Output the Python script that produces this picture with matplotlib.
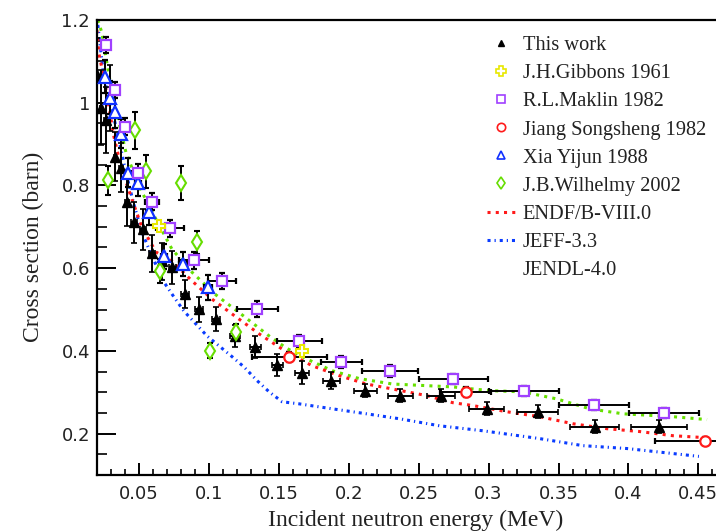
import matplotlib
matplotlib.use("Agg")
import matplotlib.pyplot as plt
from matplotlib.lines import Line2D
from matplotlib.ticker import MultipleLocator, FormatStrFormatter

# This work
tw_e = [0.0199, 0.0228, 0.0263, 0.0292, 0.0328, 0.0371, 0.0414, 0.0464,
        0.0529, 0.0593, 0.0665, 0.0737, 0.0830, 0.0930, 0.1052, 0.1188,
        0.1331, 0.1489, 0.1668, 0.1875, 0.2119, 0.2369, 0.2663, 0.2986,
        0.3351, 0.3759, 0.4218]
tw_xs = [1.067, 0.988, 0.959, 1.012, 0.870, 0.843, 0.761, 0.711,
         0.694, 0.636, 0.617, 0.602, 0.537, 0.501, 0.477, 0.436,
         0.410, 0.366, 0.347, 0.328, 0.304, 0.292, 0.292, 0.260,
         0.253, 0.217, 0.217]
tw_dx = [0.001, 0.001, 0.001, 0.001, 0.001, 0.0015, 0.0015, 0.002,
         0.002, 0.002, 0.0025, 0.0025, 0.003, 0.003, 0.003, 0.0035,
         0.004, 0.004, 0.005, 0.006, 0.008, 0.009, 0.010, 0.0125,
         0.0147, 0.0175, 0.020]
tw_dy = [0.09, 0.09, 0.08, 0.08, 0.06, 0.06, 0.06, 0.05,
         0.05, 0.045, 0.045, 0.04, 0.034, 0.03, 0.03, 0.026,
         0.026, 0.026, 0.028, 0.02, 0.016, 0.016, 0.016, 0.016,
         0.016, 0.016, 0.016]

# J.H.Gibbons 1961
gib_e = [0.0643, 0.1668]
gib_xs = [0.701, 0.400]
gib_dy = [0.012, 0.012]

# R.L.Maklin 1982
mak_e = [0.0264, 0.0328, 0.0400, 0.0493, 0.0593, 0.0722, 0.0894, 0.1095,
         0.1345, 0.1646, 0.1947, 0.2298, 0.2749, 0.3251, 0.3752, 0.4254]
mak_xs = [1.140, 1.031, 0.942, 0.831, 0.761, 0.696, 0.619, 0.569,
          0.501, 0.424, 0.373, 0.352, 0.333, 0.304, 0.270, 0.251]
mak_dx = [0.002, 0.003, 0.003, 0.004, 0.005, 0.010, 0.011, 0.010,
          0.0147, 0.016, 0.0147, 0.020, 0.025, 0.025, 0.025, 0.025]
mak_dy = [0.02, 0.02, 0.02, 0.02, 0.02, 0.02, 0.02, 0.02,
          0.02, 0.015, 0.015, 0.015, 0.012, 0.012, 0.012, 0.012]

# Jiang Songsheng 1982
jia_e = [0.1575, 0.2835, 0.4547]
jia_xs = [0.386, 0.301, 0.183]
jia_dx = [0.027, 0.018, 0.036]
jia_dy = [0.012, 0.012, 0.008]

# Xia Yijun 1988
xia_e = [0.0256, 0.0292, 0.0328, 0.0371, 0.0421, 0.0493, 0.0572, 0.0679,
         0.0815, 0.0994]
xia_xs = [1.063, 1.012, 0.978, 0.925, 0.831, 0.805, 0.735, 0.629,
          0.610, 0.554]
xia_dx = [0.001, 0.001, 0.001, 0.0015, 0.0015, 0.002, 0.002, 0.002,
          0.003, 0.003]
xia_dy = [0.04, 0.04, 0.04, 0.035, 0.035, 0.03, 0.03, 0.03,
          0.03, 0.03]

# J.B.Wilhelmy 2002
wil_e = [0.0278, 0.0471, 0.0550, 0.0801, 0.0650, 0.0915, 0.1009, 0.1195]
wil_xs = [0.812, 0.933, 0.834, 0.807, 0.593, 0.663, 0.400, 0.446]
wil_dy = [0.034, 0.044, 0.04, 0.041, 0.03, 0.028, 0.018, 0.02]

# evaluations
endf_e = [0.0199, 0.0213, 0.0256, 0.0321, 0.0371, 0.0443, 0.0521, 0.0622,
          0.0736, 0.0880, 0.1023, 0.1195, 0.1360, 0.1553, 0.1739, 0.1933,
          0.2126, 0.2312, 0.2556, 0.2742, 0.2885, 0.3129, 0.3365, 0.3602,
          0.3845, 0.4082, 0.4318, 0.4562]
endf_xs = [1.176, 1.120, 1.048, 0.918, 0.846, 0.773, 0.699, 0.639,
           0.617, 0.569, 0.525, 0.482, 0.441, 0.398, 0.364, 0.340,
           0.320, 0.308, 0.292, 0.275, 0.268, 0.253, 0.241, 0.224,
           0.212, 0.205, 0.195, 0.190]

jeff_e = [0.0206, 0.0249, 0.0307, 0.0357, 0.0407, 0.0464, 0.0521, 0.0593,
          0.0679, 0.0751, 0.0822, 0.0894, 0.0987, 0.1073, 0.1159, 0.1252,
          0.1345, 0.1431, 0.1524, 0.1646, 0.1883, 0.2126, 0.2362, 0.2649,
          0.2957, 0.3365, 0.3673, 0.3989, 0.4504]
jeff_xs = [1.188, 1.060, 0.983, 0.911, 0.831, 0.754, 0.687, 0.629,
           0.566, 0.530, 0.496, 0.470, 0.436, 0.412, 0.388, 0.361,
           0.328, 0.301, 0.277, 0.272, 0.260, 0.248, 0.236, 0.219,
           0.207, 0.188, 0.171, 0.164, 0.145]

jendl_e = [0.0206, 0.0235, 0.0285, 0.0335, 0.0407, 0.0500, 0.0622, 0.0736,
           0.0880, 0.1052, 0.1238, 0.1431, 0.1553, 0.1696, 0.1883, 0.2076,
           0.2312, 0.2556, 0.2742, 0.3007, 0.3244, 0.3487, 0.3724, 0.3960,
           0.4318, 0.4562]
jendl_xs = [1.200, 1.169, 1.067, 0.983, 0.880, 0.798, 0.718, 0.646,
            0.590, 0.535, 0.487, 0.436, 0.407, 0.381, 0.352, 0.333,
            0.320, 0.316, 0.313, 0.304, 0.301, 0.284, 0.260, 0.248,
            0.241, 0.234]

W, H = 716, 532
fig = plt.figure(figsize=(W / 100, H / 100), dpi=100)
# the original picture is cut at the right, so the axes run to the edge
ax = fig.add_axes([97 / W, 1 - 475 / H, 1 - 97 / W, (475 - 20) / H])

SERIF = "Liberation Serif"
SANS = "DejaVu Sans"
TXT = "#222222"

RED = "#ff1a1a"
BLUE = "#0a3cff"
GREEN = "#66e000"

# evaluated curves
ax.plot(jeff_e, jeff_xs, color=BLUE, lw=2.2,
        dashes=(1.0, 1.3, 0.4, 1.3), zorder=2)
ax.plot(jendl_e, jendl_xs, color=GREEN, lw=2.2,
        dashes=(1.0, 1.7), zorder=2)
ax.plot(endf_e, endf_xs, color=RED, lw=2.2,
        dashes=(1.0, 1.7), zorder=2)

eb = dict(ecolor="black", elinewidth=1.4, capsize=2, capthick=1.2,
          linestyle="none", zorder=3)

ax.errorbar(tw_e, tw_xs, xerr=tw_dx, yerr=tw_dy, fmt="^", ms=7,
            color="black", mfc="black", mec="black", **eb)
ax.errorbar(wil_e, wil_xs, yerr=wil_dy, fmt="d", ms=8, mfc="white",
            mec="#66dd00", mew=1.5, **eb)
ax.errorbar(xia_e, xia_xs, xerr=xia_dx, yerr=xia_dy, fmt="^", ms=8,
            mfc="white", mec="#1030ff", mew=1.6, **eb)
ax.errorbar(mak_e, mak_xs, xerr=mak_dx, yerr=mak_dy, fmt="s", ms=7.5,
            mfc="white", mec="#a040ff", mew=1.6, **eb)
ax.errorbar(jia_e, jia_xs, xerr=jia_dx, yerr=jia_dy, fmt="o", ms=7.5,
            mfc="white", mec=RED, mew=1.6, **eb)
ax.errorbar(gib_e, gib_xs, yerr=gib_dy, fmt="P", ms=9, mfc="white",
            mec="#e8e800", mew=1.5, **eb)

ax.set_xlim(0.02, 0.05 + (716 - 140) / 1396)
ax.set_ylim(0.1, 1.2)

ax.spines["right"].set_visible(False)
for s in ["left", "bottom", "top"]:
    ax.spines[s].set_linewidth(1.6)

ax.xaxis.set_major_locator(MultipleLocator(0.05))
ax.xaxis.set_minor_locator(MultipleLocator(0.01))
ax.yaxis.set_major_locator(MultipleLocator(0.2))
ax.yaxis.set_minor_locator(MultipleLocator(0.05))
ax.xaxis.set_major_formatter(FormatStrFormatter("%g"))
ax.yaxis.set_major_formatter(FormatStrFormatter("%g"))

ax.tick_params(axis="x", which="major", direction="in", length=9, width=1.4,
               pad=7, labelsize=13, labelcolor=TXT)
ax.tick_params(axis="x", which="minor", direction="in", length=4.5, width=1.2)
ax.tick_params(axis="y", which="major", direction="in", length=14, width=1.4,
               pad=5, labelsize=13, labelcolor=TXT)
ax.tick_params(axis="y", which="minor", direction="in", length=7, width=1.2)
ax.tick_params(top=False, right=False, which="both")
for lab in ax.get_xticklabels() + ax.get_yticklabels():
    lab.set_fontfamily(SANS)

fig.text(416 / W, 1 - 520 / H, "Incident neutron energy (MeV)",
         ha="center", va="center", fontsize=17, family=SERIF, color=TXT)
fig.text(33 / W, 1 - 247 / H, "Cross section (barn)", rotation=90,
         ha="center", va="center", fontsize=17, family=SERIF, color=TXT)

handles = [
    Line2D([], [], marker="^", ls="none", color="black", ms=5),
    Line2D([], [], marker="P", ls="none", mfc="none", mec="#e8e800", ms=7, mew=1.2),
    Line2D([], [], marker="s", ls="none", mfc="none", mec="#a040ff", ms=6, mew=1.2),
    Line2D([], [], marker="o", ls="none", mfc="none", mec=RED, ms=6, mew=1.2),
    Line2D([], [], marker="^", ls="none", mfc="none", mec="#1030ff", ms=6, mew=1.2),
    Line2D([], [], marker="d", ls="none", mfc="none", mec="#66dd00", ms=6, mew=1.2),
    Line2D([], [], color=RED, lw=2.2, dashes=(1.0, 1.7)),
    Line2D([], [], color=BLUE, lw=2.2, dashes=(1.0, 1.3, 0.4, 1.3)),
    Line2D([], [], color="none"),
]
labels = ["This work", "J.H.Gibbons 1961", "R.L.Maklin 1982",
          "Jiang Songsheng 1982", "Xia Yijun 1988", "J.B.Wilhelmy 2002",
          "ENDF/B-VIII.0", "JEFF-3.3", "JENDL-4.0"]
leg = fig.legend(handles, labels, loc="upper left",
                 bbox_to_anchor=(487 / W, 1 - 36 / H), frameon=False,
                 prop={"family": SERIF, "size": 14.7}, handlelength=1.35,
                 handletextpad=0.4, labelspacing=0.43, borderpad=0,
                 borderaxespad=0)
for t in leg.get_texts():
    t.set_color(TXT)

fig.savefig("out.png", dpi=100)
